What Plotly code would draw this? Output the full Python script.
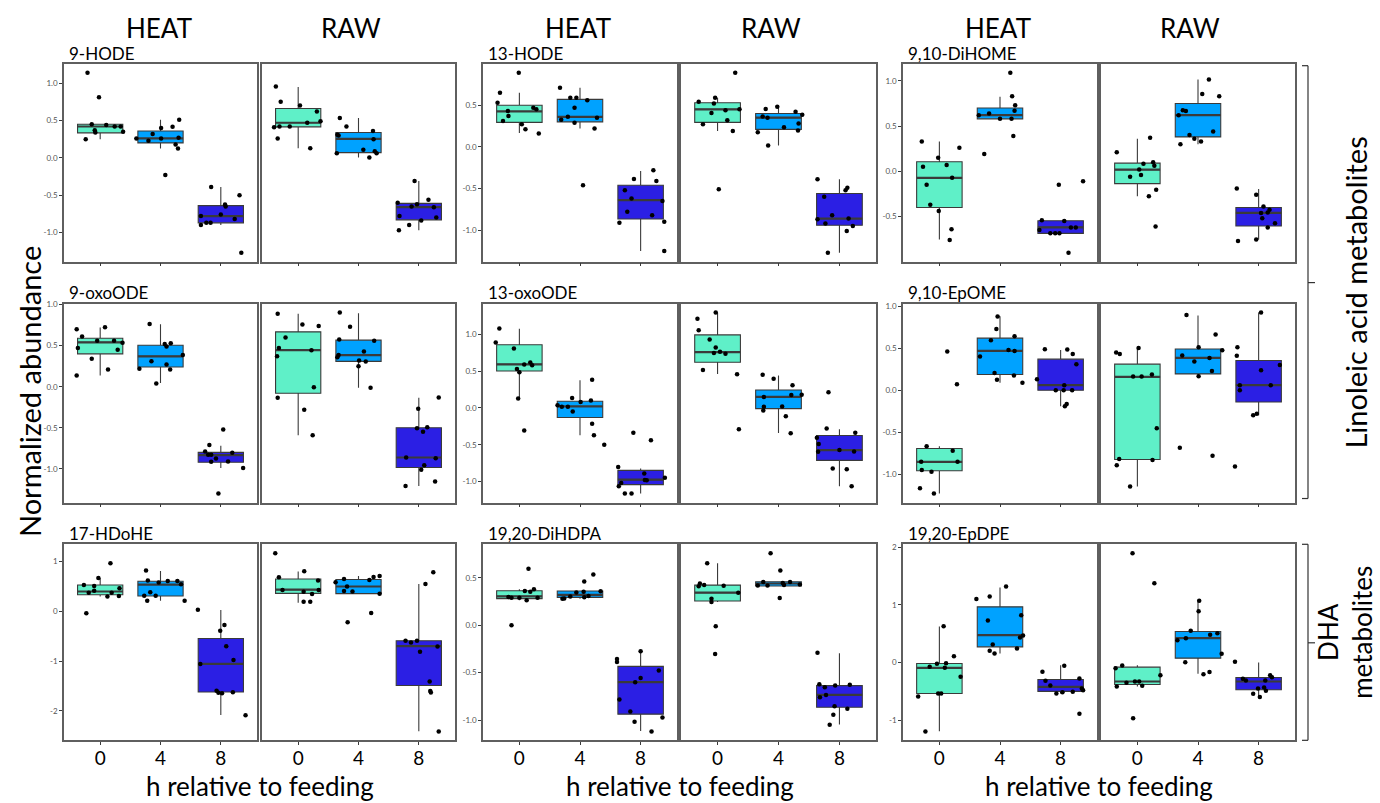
import plotly.graph_objects as go

W, H = 1380, 803
FONT = "Lato"

HOURS = ["0", "4", "8"]
CATS = [1, 2, 3]
CONDITIONS = ["HEAT", "RAW"]
COLORS = ["#5FF0C8", "#00A2FF", "#2B1FE4"]

METABOLITES = ["9-HODE", "13-HODE", "9,10-DiHOME",
               "9-oxoODE", "13-oxoODE", "9,10-EpOME",
               "17-HDoHE", "19,20-DiHDPA", "19,20-EpDPE"]
YTICKS = [[-1.0, -0.5, 0.0, 0.5, 1.0], [-1.0, -0.5, 0.0, 0.5, 1.0], [-0.5, 0.0, 0.5, 1.0],
          [-1.0, -0.5, 0.0, 0.5, 1.0], [-1.0, -0.5, 0.0, 0.5, 1.0], [-1.0, -0.5, 0.0, 0.5, 1.0],
          [-2, -1, 0, 1], [-1.0, -0.5, 0.0, 0.5], [-1, 0, 1, 2]]
YTICK_DEC = [1, 1, 1, 1, 1, 1, 0, 1, 0]

# ---- data: Y = values per hour, J = horizontal jitter, BOX = [q1, median, q3, lower whisker, upper whisker]
HODE9_HEAT_Y = [[1.14, 0.81, 0.45, 0.44, 0.42, 0.42, 0.37, 0.34, 0.35, 0.25],
                [0.26, 0.23, 0.32, 0.40, 0.26, 0.415, 0.51, 0.27, 0.18, 0.125, -0.23],
                [-0.39, -0.50, -0.625, -0.65, -0.76, -0.82, -0.78, -0.90, -0.87, -0.87, -1.27]]
HODE9_HEAT_J = [[-0.21, -0.02, -0.14, 0.10, 0.24, 0.34, -0.09, -0.08, 0.38, -0.24],
                [-0.40, -0.20, -0.13, 0.01, 0.01, 0.20, 0.31, 0.30, 0.25, 0.29, 0.08],
                [-0.16, 0.31, 0.07, 0.08, 0.0, 0.23, -0.33, -0.33, -0.24, -0.17, 0.34]]
HODE9_HEAT_BOX = [[0.335, 0.42, 0.45, 0.25, 0.45], [0.20, 0.26, 0.36, 0.125, 0.51], [-0.87, -0.78, -0.64, -0.90, -0.39]]

HODE9_RAW_Y = [[0.955, 0.75, 0.70, 0.62, 0.47, 0.49, 0.41, 0.42, 0.42, 0.26, 0.13],
               [0.535, 0.42, 0.31, 0.30, 0.06, 0.11, 0.005, 0.36, 0.25, 0.09, 0.06],
               [-0.31, -0.56, -0.60, -0.62, -0.65, -0.66, -0.78, -0.80, -0.84, -0.90, -0.97]]
HODE9_RAW_J = [[-0.37, -0.29, 0.03, 0.31, 0.15, 0.37, -0.40, -0.31, -0.14, -0.34, 0.20],
               [-0.31, -0.20, -0.35, -0.33, -0.36, 0.08, 0.18, 0.24, 0.25, 0.27, 0.30],
               [-0.07, 0.16, -0.35, -0.03, -0.12, 0.25, -0.32, 0.29, 0.04, -0.16, -0.33]]
HODE9_RAW_BOX = [[0.415, 0.47, 0.66, 0.13, 0.95], [0.07, 0.255, 0.34, 0.005, 0.535], [-0.83, -0.66, -0.61, -0.97, -0.31]]

HODE13_HEAT_Y = [[0.89, 0.65, 0.53, 0.43, 0.37, 0.31, 0.27, 0.21, 0.47, 0.45, 0.16],
                 [0.71, 0.59, 0.59, 0.56, 0.47, 0.325, 0.36, 0.29, 0.35, 0.22, -0.46],
                 [-0.28, -0.385, -0.41, -0.52, -0.62, -0.78, -0.65, -0.82, -0.91, -0.90, -1.25]]
HODE13_HEAT_J = [[-0.01, -0.32, -0.36, -0.19, -0.18, -0.27, 0.04, 0.10, 0.23, 0.28, 0.32],
                 [-0.33, -0.16, -0.06, 0.12, -0.09, -0.31, -0.20, -0.09, 0.28, 0.24, 0.05],
                 [0.21, -0.11, 0.26, -0.26, -0.15, -0.22, 0.36, 0.19, -0.35, 0.39, 0.39]]
HODE13_HEAT_BOX = [[0.294, 0.425, 0.50, 0.167, 0.65], [0.30, 0.36, 0.57, 0.22, 0.71], [-0.865, -0.64, -0.46, -1.25, -0.29]]

HODE13_RAW_Y = [[0.89, 0.59, 0.54, 0.52, 0.405, 0.44, 0.45, 0.32, 0.27, 0.19, -0.51],
                [0.48, 0.455, 0.365, 0.35, 0.42, 0.385, 0.28, 0.235, 0.195, 0.175, 0.016],
                [-0.39, -0.49, -0.52, -0.60, -0.82, -0.87, -0.92, -0.86, -0.95, -1.01, -1.27]]
HODE13_RAW_J = [[0.29, -0.04, -0.31, -0.06, -0.10, 0.13, 0.36, 0.16, -0.24, 0.25, 0.02],
                [-0.02, -0.21, -0.26, -0.18, 0.28, 0.39, 0.33, 0.09, 0.32, -0.34, -0.17],
                [-0.36, 0.13, 0.10, -0.25, -0.12, -0.36, -0.23, 0.15, 0.22, 0.12, -0.19]]
HODE13_RAW_BOX = [[0.294, 0.45, 0.53, 0.19, 0.59], [0.21, 0.35, 0.40, 0.016, 0.48], [-0.94, -0.86, -0.56, -1.27, -0.39]]

DIHOME_HEAT_Y = [[0.33, 0.26, 0.15, 0.05, 0.07, -0.07, -0.15, -0.37, -0.44, -0.64, -0.76],
                 [1.09, 0.83, 0.73, 0.67, 0.62, 0.64, 0.58, 0.58, 0.39, 0.19],
                 [-0.15, -0.11, -0.54, -0.55, -0.65, -0.685, -0.685, -0.685, -0.62, -0.62, -0.90]]
DIHOME_HEAT_J = [[-0.29, 0.33, -0.02, -0.27, 0.12, 0.21, -0.21, -0.15, -0.01, 0.20, 0.17],
                 [0.17, 0.20, 0.25, 0.24, -0.35, -0.18, 0.0, 0.19, 0.22, -0.26],
                 [-0.03, 0.37, -0.31, 0.06, -0.35, -0.17, -0.09, -0.02, 0.17, 0.25, 0.13]]
DIHOME_HEAT_BOX = [[-0.40, -0.073, 0.106, -0.755, 0.33], [0.58, 0.62, 0.70, 0.58, 0.825], [-0.686, -0.62, -0.546, -0.686, -0.546]]

DIHOME_RAW_Y = [[0.21, 0.37, 0.084, 0.10, 0.06, 0.02, -0.06, -0.04, -0.205, -0.275, -0.61],
                [1.015, 0.855, 0.83, 0.675, 0.667, 0.62, 0.44, 0.40, 0.36, 0.33, 0.30],
                [-0.19, -0.26, -0.39, -0.425, -0.455, -0.46, -0.52, -0.575, -0.62, -0.755, -0.77]]
DIHOME_RAW_J = [[-0.34, 0.21, 0.10, 0.26, 0.28, 0.03, -0.12, 0.06, 0.31, 0.19, 0.30],
                [0.18, 0.07, 0.35, -0.25, -0.20, -0.32, 0.25, -0.14, -0.06, 0.05, -0.29],
                [-0.36, -0.04, 0.08, 0.18, 0.15, 0.04, 0.06, 0.27, 0.15, -0.04, -0.34]]
DIHOME_RAW_BOX = [[-0.136, 0.018, 0.09, -0.275, 0.36], [0.38, 0.62, 0.75, 0.30, 1.015], [-0.605, -0.46, -0.40, -0.755, -0.195]]

OXO9_HEAT_Y = [[0.70, 0.725, 0.61, 0.56, 0.56, 0.47, 0.535, 0.45, 0.34, 0.21, 0.135],
               [0.765, 0.52, 0.49, 0.53, 0.385, 0.31, 0.27, 0.22, 0.21, 0.04],
               [-0.52, -0.71, -0.79, -0.83, -0.83, -0.875, -0.805, -0.915, -0.91, -0.99, -1.30]]
OXO9_HEAT_J = [[-0.39, 0.08, -0.30, -0.05, 0.23, -0.37, 0.37, 0.29, -0.14, 0.13, -0.39],
               [-0.18, 0.07, 0.10, 0.17, 0.37, -0.15, 0.10, -0.35, 0.16, -0.07],
               [0.04, -0.19, -0.26, -0.21, -0.16, -0.08, 0.19, -0.16, 0.12, 0.37, -0.04]]
OXO9_HEAT_BOX = [[0.40, 0.54, 0.59, 0.135, 0.72], [0.24, 0.37, 0.505, 0.045, 0.76], [-0.92, -0.834, -0.80, -0.99, -0.72]]

OXO9_RAW_Y = [[0.887, 0.757, 0.74, 0.60, 0.47, 0.37, 0.445, -0.008, -0.134, -0.28, -0.59],
              [0.903, 0.73, 0.575, 0.56, 0.385, 0.36, 0.43, 0.32, 0.308, 0.25, -0.012],
              [-0.13, -0.27, -0.506, -0.494, -0.55, -0.862, -0.87, -0.955, -1.01, -1.154, -1.21]]
OXO9_RAW_J = [[-0.34, 0.07, 0.34, -0.21, -0.32, -0.35, 0.22, 0.26, -0.34, 0.10, 0.24],
              [-0.31, -0.14, -0.32, 0.26, -0.33, -0.35, 0.09, 0.01, 0.12, 0.0, 0.20],
              [0.33, -0.01, -0.03, 0.14, 0.07, -0.21, 0.28, 0.09, 0.04, 0.27, -0.22]]
OXO9_RAW_BOX = [[-0.08, 0.445, 0.668, -0.59, 0.887], [0.308, 0.385, 0.567, -0.012, 0.895], [-0.984, -0.862, -0.50, -1.21, -0.134]]

OXO13_HEAT_Y = [[1.077, 0.887, 0.806, 0.527, 0.482, 0.59, 0.617, 0.577, 0.126, -0.306],
                [0.383, 0.135, 0.08, 0.10, 0.036, 0.014, 0.014, -0.05, -0.216, -0.37, -0.50],
                [-0.338, -0.44, -0.80, -0.89, -0.946, -0.977, -0.982, -1.018, -1.063, -1.16, -1.16]]
OXO13_HEAT_J = [[-0.33, -0.39, -0.09, -0.04, 0.0, 0.08, 0.18, 0.21, -0.02, 0.08],
                [0.20, -0.13, 0.01, 0.18, -0.37, -0.30, -0.20, -0.12, 0.20, 0.23, 0.40],
                [-0.12, 0.17, -0.37, 0.06, 0.40, 0.07, 0.10, -0.32, -0.36, -0.26, -0.15]]
OXO13_HEAT_BOX = [[0.50, 0.59, 0.856, 0.126, 1.072], [-0.13, 0.02, 0.09, -0.37, 0.374], [-1.04, -0.973, -0.847, -1.16, -0.82]]

OXO13_RAW_Y = [[1.293, 1.21, 1.054, 0.928, 0.82, 0.761, 0.743, 0.734, 0.514, 0.455, -0.288],
               [0.45, 0.396, 0.306, 0.149, 0.176, 0.18, 0.014, -0.036, 0.018, -0.113, -0.342],
               [0.212, -0.28, -0.338, -0.405, -0.49, -0.595, -0.572, -0.59, -0.82, -0.833, -1.063]]
OXO13_RAW_J = [[-0.03, -0.33, -0.31, -0.13, -0.03, 0.04, -0.06, 0.13, -0.24, 0.32, 0.35],
               [-0.26, -0.08, 0.23, -0.24, 0.21, 0.38, -0.24, -0.25, 0.06, 0.12, 0.20],
               [-0.18, -0.21, 0.26, -0.37, -0.34, -0.35, 0.0, 0.24, -0.11, 0.12, 0.20]]
OXO13_RAW_BOX = [[0.62, 0.757, 0.99, 0.46, 1.29], [-0.01, 0.15, 0.243, -0.34, 0.44], [-0.712, -0.572, -0.374, -1.063, -0.29]]

EPOME_HEAT_Y = [[0.46, 0.071, -0.667, -0.72, -0.853, -0.853, -0.95, -0.97, -1.167, -1.23],
                [0.877, 0.73, 0.595, 0.48, 0.468, 0.643, 0.40, 0.206, 0.175, 0.123, 0.09],
                [0.488, 0.484, 0.43, 0.31, 0.13, 0.06, 0.0, 0.0, 0.0, -0.163, -0.19]]
EPOME_HEAT_J = [[0.13, 0.29, -0.21, 0.22, -0.30, 0.30, -0.29, -0.13, -0.32, -0.09],
                [-0.04, -0.06, -0.15, 0.14, 0.24, 0.24, -0.33, -0.09, 0.23, -0.05, 0.37],
                [-0.26, 0.11, 0.20, 0.26, -0.39, 0.06, -0.08, 0.05, 0.19, 0.10, 0.07]]
EPOME_HEAT_BOX = [[-0.96, -0.853, -0.694, -1.23, -0.667], [0.187, 0.468, 0.62, 0.09, 0.88], [0.0, 0.06, 0.37, -0.19, 0.48]]

EPOME_RAW_Y = [[0.448, 0.43, 0.504, 0.163, 0.163, 0.187, -0.452, -0.82, -0.83, -0.893, -1.147],
               [0.897, 0.663, 0.413, 0.512, 0.476, 0.341, 0.385, 0.23, 0.167, -0.686, -0.78],
               [0.925, 0.512, 0.41, 0.30, 0.238, 0.06, 0.06, 0.0, -0.282, -0.298, -0.91]]
EPOME_RAW_J = [[-0.35, -0.29, 0.02, -0.07, 0.07, 0.24, 0.32, -0.30, 0.25, -0.34, -0.12],
               [-0.19, 0.29, -0.26, 0.01, 0.40, -0.06, 0.19, 0.23, 0.01, -0.30, 0.24],
               [0.04, -0.35, -0.36, 0.35, 0.04, -0.31, 0.20, -0.31, -0.03, -0.09, -0.39]]
EPOME_RAW_BOX = [[-0.825, 0.159, 0.31, -1.147, 0.508], [0.194, 0.385, 0.49, 0.167, 0.89], [-0.14, 0.06, 0.353, -0.298, 0.925]]

HDOHE_HEAT_Y = [[0.97, 0.67, 0.53, 0.51, 0.377, 0.417, 0.377, 0.464, 0.30, 0.31, -0.04],
                [0.82, 0.62, 0.58, 0.61, 0.61, 0.545, 0.316, 0.316, 0.383, 0.215, 0.215],
                [0.034, -0.276, -0.39, -0.70, -0.98, -1.056, -1.594, -1.634, -1.648, -1.627, -2.09]]
HDOHE_HEAT_J = [[0.17, -0.03, -0.27, -0.10, -0.19, -0.10, 0.19, 0.32, 0.12, 0.31, -0.23],
                [-0.24, -0.21, -0.03, 0.12, 0.28, 0.34, -0.27, -0.08, -0.17, -0.22, 0.40],
                [-0.38, 0.06, -0.01, 0.09, 0.21, -0.34, -0.07, -0.04, 0.02, 0.20, 0.41]]
HDOHE_HEAT_BOX = [[0.336, 0.40, 0.53, 0.30, 0.67], [0.31, 0.54, 0.605, 0.215, 0.81], [-1.62, -1.056, -0.545, -2.085, 0.027]]

HDOHE_RAW_Y = [[1.17, 0.807, 0.686, 0.43, 0.397, 0.62, 0.43, 0.35, 0.195, 0.195],
               [0.65, 0.585, 0.50, 0.40, 0.41, 0.63, 0.69, 0.71, 0.357, -0.22, -0.034],
               [0.787, 0.55, -0.59, -0.625, -0.59, -0.706, -0.814, -1.41, -1.60, -1.63, -2.414]]
HDOHE_RAW_J = [[-0.38, 0.10, -0.32, -0.26, 0.09, 0.33, 0.34, 0.23, 0.09, 0.20],
               [-0.24, -0.38, -0.19, -0.10, -0.24, 0.18, 0.25, 0.35, 0.35, -0.18, 0.21],
               [0.24, 0.11, -0.22, -0.13, -0.03, 0.31, 0.02, 0.18, 0.19, 0.20, 0.33]]
HDOHE_RAW_BOX = [[0.363, 0.437, 0.652, 0.175, 0.80], [0.357, 0.50, 0.64, 0.357, 0.71], [-1.49, -0.70, -0.59, -2.41, 0.55]]

DIHDPA_HEAT_Y = [[0.594, 0.36, 0.353, 0.38, 0.297, 0.29, 0.29, 0.262, 0.29, 0.0],
                 [0.535, 0.46, 0.346, 0.353, 0.357, 0.28, 0.283, 0.304, 0.294, 0.308],
                 [-0.273, -0.357, -0.388, -0.476, -0.556, -0.60, -0.783, -0.909, -1.017, -0.972, -1.119]]
DIHDPA_HEAT_J = [[0.15, 0.09, 0.18, 0.24, -0.18, -0.13, 0.0, 0.12, 0.30, -0.13],
                 [0.22, 0.07, -0.06, 0.06, 0.34, -0.29, -0.26, -0.16, 0.07, 0.14],
                 [0.0, -0.39, -0.39, 0.30, 0.0, -0.09, -0.35, -0.17, -0.10, 0.36, 0.18]]
DIHDPA_HEAT_BOX = [[0.28, 0.304, 0.364, 0.262, 0.38], [0.294, 0.32, 0.36, 0.28, 0.36], [-0.937, -0.60, -0.434, -1.115, -0.27]]

DIHDPA_RAW_Y = [[0.654, 0.44, 0.423, 0.41, 0.416, 0.343, 0.28, 0.245, -0.01, -0.304],
                [0.759, 0.577, 0.455, 0.42, 0.42, 0.444, 0.423, 0.455, 0.43, 0.287],
                [-0.29, -0.622, -0.654, -0.636, -0.626, -0.734, -0.759, -0.853, -0.88, -0.944, -1.049]]
DIHDPA_RAW_J = [[-0.17, -0.29, -0.22, -0.31, 0.10, 0.34, -0.10, -0.10, -0.03, -0.04],
                [-0.13, 0.03, -0.25, -0.34, -0.18, 0.07, 0.09, 0.19, 0.35, 0.02],
                [-0.36, -0.33, -0.24, -0.07, 0.17, -0.22, -0.32, -0.08, 0.13, -0.10, -0.16]]
DIHDPA_RAW_BOX = [[0.255, 0.343, 0.423, 0.245, 0.654], [0.413, 0.44, 0.458, 0.413, 0.458], [-0.864, -0.734, -0.636, -1.045, -0.294]]

EPDPE_HEAT_Y = [[0.629, 0.11, -0.023, -0.012, -0.075, -0.092, -0.248, -0.537, -0.537, -0.589, -1.194],
                [1.316, 1.10, 1.143, 0.727, 0.82, 0.467, 0.433, 0.312, 0.242, 0.202, 0.156],
                [-0.058, -0.162, -0.277, -0.317, -0.398, -0.45, -0.479, -0.514, -0.537, -0.508, -0.889]]
EPDPE_HEAT_J = [[0.07, 0.24, -0.04, 0.11, -0.16, 0.09, 0.35, -0.02, 0.03, -0.35, -0.23],
                [0.10, -0.39, -0.17, -0.20, 0.35, 0.38, 0.33, -0.12, 0.28, -0.17, -0.09],
                [0.06, -0.30, 0.31, -0.25, -0.17, 0.35, 0.37, 0.03, -0.07, 0.20, 0.31]]
EPDPE_HEAT_BOX = [[-0.537, -0.092, -0.017, -1.19, 0.623], [0.271, 0.473, 0.964, 0.156, 1.30], [-0.50, -0.421, -0.294, -0.537, -0.05]]

EPDPE_RAW_Y = [[1.893, 1.373, -0.052, -0.098, -0.219, -0.415, -0.352, -0.329, -0.329, -0.404, -0.964],
               [1.068, 0.889, 0.548, 0.508, 0.479, 0.421, 0.387, 0.15, 0.006, -0.167, -0.202],
               [0.012, -0.219, -0.254, -0.283, -0.312, -0.312, -0.433, -0.45, -0.49, -0.542, -0.60]]
EPDPE_RAW_J = [[-0.08, 0.28, -0.25, -0.36, 0.38, -0.34, -0.18, -0.04, 0.03, 0.08, -0.07],
               [0.02, 0.01, -0.12, 0.32, 0.20, -0.20, -0.34, 0.39, -0.21, 0.19, 0.09],
               [-0.39, 0.19, 0.22, -0.26, -0.21, 0.11, 0.09, -0.01, 0.12, -0.09, 0.02]]
EPDPE_RAW_BOX = [[-0.381, -0.329, -0.081, -0.415, -0.05], [0.075, 0.421, 0.537, -0.196, 1.08], [-0.473, -0.329, -0.26, -0.60, 0.0]]

PANELS = [
    ((HODE9_HEAT_Y, HODE9_HEAT_J, HODE9_HEAT_BOX), (HODE9_RAW_Y, HODE9_RAW_J, HODE9_RAW_BOX)),
    ((HODE13_HEAT_Y, HODE13_HEAT_J, HODE13_HEAT_BOX), (HODE13_RAW_Y, HODE13_RAW_J, HODE13_RAW_BOX)),
    ((DIHOME_HEAT_Y, DIHOME_HEAT_J, DIHOME_HEAT_BOX), (DIHOME_RAW_Y, DIHOME_RAW_J, DIHOME_RAW_BOX)),
    ((OXO9_HEAT_Y, OXO9_HEAT_J, OXO9_HEAT_BOX), (OXO9_RAW_Y, OXO9_RAW_J, OXO9_RAW_BOX)),
    ((OXO13_HEAT_Y, OXO13_HEAT_J, OXO13_HEAT_BOX), (OXO13_RAW_Y, OXO13_RAW_J, OXO13_RAW_BOX)),
    ((EPOME_HEAT_Y, EPOME_HEAT_J, EPOME_HEAT_BOX), (EPOME_RAW_Y, EPOME_RAW_J, EPOME_RAW_BOX)),
    ((HDOHE_HEAT_Y, HDOHE_HEAT_J, HDOHE_HEAT_BOX), (HDOHE_RAW_Y, HDOHE_RAW_J, HDOHE_RAW_BOX)),
    ((DIHDPA_HEAT_Y, DIHDPA_HEAT_J, DIHDPA_HEAT_BOX), (DIHDPA_RAW_Y, DIHDPA_RAW_J, DIHDPA_RAW_BOX)),
    ((EPDPE_HEAT_Y, EPDPE_HEAT_J, EPDPE_HEAT_BOX), (EPDPE_RAW_Y, EPDPE_RAW_J, EPDPE_RAW_BOX)),
]

# ---- layout geometry (pixels)
COL_X = [[(64, 257), (262, 455)], [(483, 677), (681, 876)], [(903, 1097), (1101, 1295)]]
ROW_Y = [(60, 259), (301, 501), (543, 740)]
BOX_W = 0.75
LINE_C = "#3a3a3a"
FRAME_C = "#5f5f5f"


def px(x):
    return x / W


def py(y):
    return 1 - y / H


fig = go.Figure()
layout = {}
annotations = []
shapes = []

for m, (name, pair) in enumerate(zip(METABOLITES, PANELS)):
    row, col = divmod(m, 3)
    allv = [v for cond in pair for grp in cond[0] for v in grp]
    vmin, vmax = min(allv), max(allv)
    pad = 0.05 * (vmax - vmin)
    yr = [vmin - pad, vmax + pad]
    dec = YTICK_DEC[m]
    ttext = [f"{t:.1f}" if dec else f"{int(t)}" for t in YTICKS[m]]
    for c, (ys, js, boxes) in enumerate(pair):
        k = m * 2 + c + 1
        xa, ya = f"x{k}", f"y{k}"
        for g in range(3):
            q1, med, q3, lo, hi = boxes[g]
            fig.add_trace(go.Box(
                x=[CATS[g]], q1=[q1], median=[med], q3=[q3], lowerfence=[lo], upperfence=[hi],
                width=BOX_W, whiskerwidth=0, boxpoints=False, fillcolor=COLORS[g],
                line=dict(color=LINE_C, width=1.1), xaxis=xa, yaxis=ya,
                showlegend=False, hoverinfo="skip"))
            fig.add_trace(go.Scatter(
                x=[CATS[g] - BOX_W / 2, CATS[g] + BOX_W / 2], y=[med, med], mode="lines",
                line=dict(color=LINE_C, width=2.2), xaxis=xa, yaxis=ya,
                showlegend=False, hoverinfo="skip"))
        for g in range(3):
            fig.add_trace(go.Scatter(
                x=[CATS[g] + j for j in js[g]], y=ys[g], mode="markers",
                marker=dict(size=4.5, color="black"), xaxis=xa, yaxis=ya,
                showlegend=False, hoverinfo="skip"))
        x0, x1 = COL_X[col][c]
        y0, y1 = ROW_Y[row]
        sfx = "" if k == 1 else str(k)
        layout["xaxis" + sfx] = dict(
            domain=[px(x0), px(x1)], anchor=ya, range=[0.4, 3.6],
            tickvals=CATS, ticktext=HOURS if row == 2 else ["", "", ""],
            ticks="outside", ticklen=3, tickcolor=LINE_C, tickwidth=1,
            ticklabelstandoff=-3,
            showline=True, mirror=True, linecolor=FRAME_C, linewidth=1.5,
            showgrid=False, zeroline=False,
            tickfont=dict(family=FONT, size=19, color="black"))
        layout["yaxis" + sfx] = dict(
            domain=[py(y1), py(y0)], anchor=xa, range=yr,
            tickvals=YTICKS[m], ticktext=ttext, showticklabels=(c == 0),
            ticks="outside" if c == 0 else "", ticklen=3, tickcolor=LINE_C, tickwidth=1,
            showline=True, mirror=True, linecolor=FRAME_C, linewidth=1.5,
            showgrid=False, zeroline=False,
            tickfont=dict(family=FONT, size=8, color="#555555"))
        if row == 0:
            annotations.append(dict(
                text=CONDITIONS[c], x=px((x0 + x1) / 2 - (2 if c == 0 else 8)), y=py(24),
                xref="paper", yref="paper", showarrow=False, xanchor="center", yanchor="middle",
                borderpad=0, font=dict(family=FONT, size=26, color="black")))
    hx0 = COL_X[col][0][0]
    annotations.append(dict(
        text=name, x=px(hx0 + 4), y=py(ROW_Y[row][0] + 1), xref="paper", yref="paper",
        showarrow=False, xanchor="left", yanchor="bottom", borderpad=0,
        font=dict(family=FONT, size=17, color="black")))

for col in range(3):
    cx = (COL_X[col][0][0] + COL_X[col][1][1]) / 2
    annotations.append(dict(
        text="h relative to feeding", x=px(cx), y=0, xref="paper", yref="paper",
        showarrow=False, xanchor="center", yanchor="bottom", borderpad=0,
        font=dict(family=FONT, size=26, color="black")))

annotations.append(dict(
    text="Normalized abundance", x=px(29), y=py(390), xref="paper", yref="paper",
    showarrow=False, textangle=-90, xanchor="center", yanchor="middle",
    font=dict(family=FONT, size=29, color="black")))
annotations.append(dict(
    text="Linoleic acid metabolites", x=px(1356), y=py(290), xref="paper", yref="paper",
    showarrow=False, textangle=-90, xanchor="center", yanchor="middle",
    font=dict(family=FONT, size=29, color="black")))
annotations.append(dict(
    text="DHA<br>metabolites", x=px(1345), y=py(632), xref="paper", yref="paper",
    showarrow=False, textangle=-90, xanchor="center", yanchor="middle", borderpad=0,
    font=dict(family=FONT, size=26, color="black")))

BRACKETS = [(62, 497, 280), (543, 740, 642)]
for (t, b, mid) in BRACKETS:
    for (xa0, ya0, xa1, ya1) in [(1308, t, 1308, b), (1302, t, 1308, t), (1302, b, 1308, b),
                                 (1308, mid, 1315, mid)]:
        shapes.append(dict(type="line", xref="paper", yref="paper",
                           x0=px(xa0), y0=py(ya0), x1=px(xa1), y1=py(ya1),
                           line=dict(color="#333333", width=1.2)))

fig.update_layout(
    width=W, height=H, margin=dict(l=0, r=0, t=0, b=0),
    paper_bgcolor="white", plot_bgcolor="white",
    annotations=annotations, shapes=shapes, showlegend=False,
    font=dict(family=FONT),
    **layout)

fig.write_html(
    "out.html",
    config={"displayModeBar": False},
    post_script="document.documentElement.style.margin='0';document.documentElement.style.overflow='hidden';"
                "document.body.style.margin='0';document.body.style.padding='0';document.body.style.overflow='hidden';")
